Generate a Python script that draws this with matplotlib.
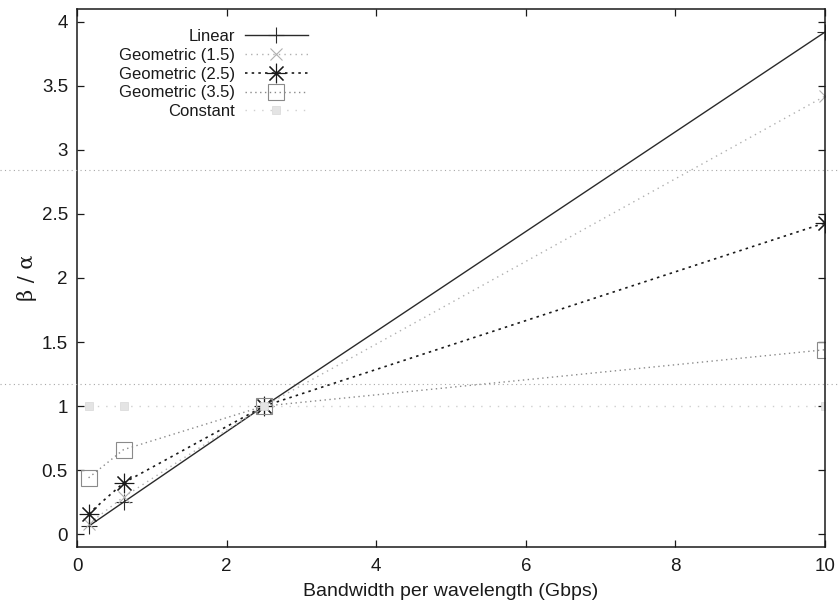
import matplotlib
matplotlib.use("Agg")
import matplotlib.pyplot as plt
from matplotlib.lines import Line2D

plt.rcParams['font.family'] = ['Liberation Sans', 'DejaVu Sans']

# Data
bandwidth = [0.155, 0.622, 2.5, 10.0]
linear = [0.062, 0.25, 1.0, 3.92]
geo_15 = [0.08, 0.29, 1.0, 3.42]
geo_25 = [0.16, 0.40, 1.0, 2.43]
geo_35 = [0.44, 0.66, 1.0, 1.44]
constant = [1.0, 1.0, 1.0, 1.0]
series_labels = ["Linear", "Geometric (1.5)", "Geometric (2.5)", "Geometric (3.5)", "Constant"]
xticks = [0, 2, 4, 6, 8, 10]
yticks = [0, 0.5, 1, 1.5, 2, 2.5, 3, 3.5, 4]
ytick_labels = ["0", "0.5", "1", "1.5", "2", "2.5", "3", "3.5", "4"]

fig = plt.figure(figsize=(8.38, 6.15), dpi=100)
ax = fig.add_axes([77/838, 1-547/615, (825-77)/838, (547-9)/615])

ax.plot(bandwidth, linear, color='#2a2a2a', lw=1.0, ls='-', marker='+', ms=11, mew=0.8,
        label=series_labels[0])
ax.plot(bandwidth, geo_15, color='#b0b0b0', lw=1.0, ls=(0, (1, 3)), marker='x', ms=9, mew=0.8,
        label=series_labels[1])
ax.plot(bandwidth, geo_25, color='#1a1a1a', lw=1.2, ls=(0, (1.5, 2.5)), marker=(8, 2, 0), ms=14, mew=0.8,
        label=series_labels[2])
ax.plot(bandwidth, geo_35, color='#8a8a8a', lw=1.0, ls=(0, (1, 2.5)), marker='s', ms=11, mew=0.8,
        mfc='none', label=series_labels[3])
ax.plot(bandwidth, constant, color='#cfcfcf', lw=1.0, ls=(0, (1, 5)), marker='s', ms=6, mew=0.5,
        mfc='#e4e4e4', mec='#d8d8d8', label=series_labels[4])

ax.set_xlim(0, 10)
ax.set_ylim(-0.1, 4.1)
ax.set_xticks(xticks)
ax.set_xticklabels([str(t) for t in xticks])
ax.set_yticks(yticks)
ax.set_yticklabels(ytick_labels)
ax.tick_params(direction='in', length=5, width=0.9, top=True, right=True, labelsize=13.5,
               colors='#1a1a1a')
ax.tick_params(axis='y', pad=6.5)
ax.tick_params(axis='x', pad=8)
for s in ax.spines.values():
    s.set_linewidth(1.1)
    s.set_color('#1a1a1a')

ax.set_xlabel("Bandwidth per wavelength (Gbps)", fontsize=14, color='#1a1a1a', labelpad=6)
ax.set_ylabel("β / α", fontsize=15, color='#1a1a1a', family=['DejaVu Serif'])
ax.yaxis.set_label_coords(-0.054, 0.5)

leg = ax.legend(loc='upper right', bbox_to_anchor=(0.309, 0.963), frameon=False, markerfirst=False,
                fontsize=12, handlelength=3.8, handletextpad=0.6, labelspacing=0.23, borderpad=0,
                borderaxespad=0)
for t in leg.get_texts():
    t.set_color('#1a1a1a')

# scan artifacts: faint horizontal dotted lines across the page
for yp in (170, 384):
    fig.add_artist(Line2D([0, 1], [1-yp/615, 1-yp/615], transform=fig.transFigure,
                          color='#a8a8a8', lw=0.8, ls=(0, (1, 3))))

fig.savefig("out.png", dpi=100)
